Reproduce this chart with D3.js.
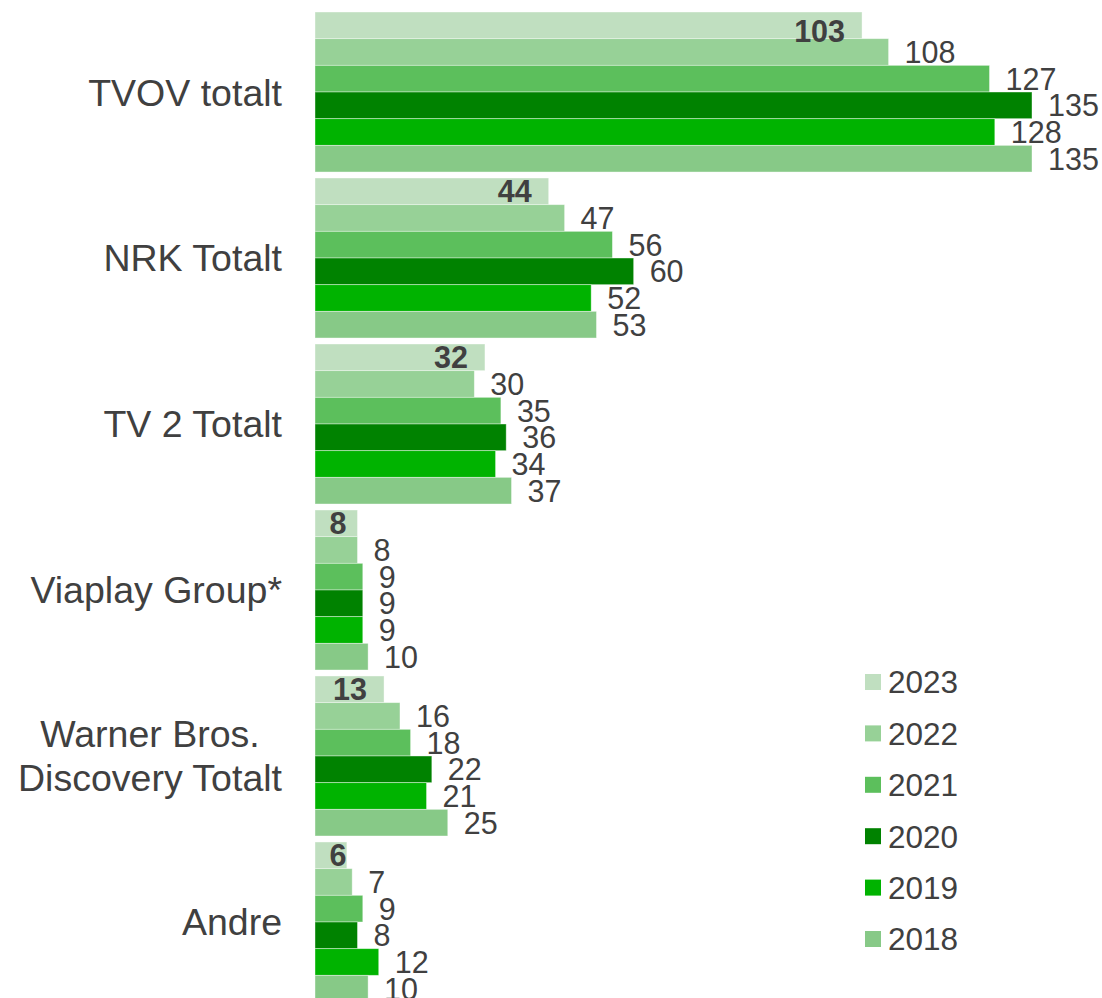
<!DOCTYPE html>
<html>
<head>
<meta charset="utf-8">
<title>TVOV</title>
<style>
  body { margin: 0; background: #fff; }
  text { font-family: "Liberation Sans", Arial, sans-serif; fill: #404040; }
</style>
</head>
<body>
<svg width="1102" height="998"></svg>
<script src="https://cdn.jsdelivr.net/npm/d3@7"></script>
<script>
// categories, top to bottom
var categories = ['TVOV totalt', 'NRK Totalt', 'TV 2 Totalt', 'Viaplay Group*', 'Warner Bros. Discovery Totalt', 'Andre'];
var categoryLines = [['TVOV totalt'], ['NRK Totalt'], ['TV 2 Totalt'], ['Viaplay Group*'], ['Warner Bros.', 'Discovery Totalt'], ['Andre']];

var years = ['2023', '2022', '2021', '2020', '2019', '2018'];
var colors = ['#c0dfc0', '#97d197', '#5cbf5c', '#008200', '#00b300', '#87c987'];

// one array per year, same order as categories
var v2023 = [103, 44, 32, 8, 13, 6];
var v2022 = [108, 47, 30, 8, 16, 7];
var v2021 = [127, 56, 35, 9, 18, 9];
var v2020 = [135, 60, 36, 9, 22, 8];
var v2019 = [128, 52, 34, 9, 21, 12];
var v2018 = [135, 53, 37, 10, 25, 10];
var series = [v2023, v2022, v2021, v2020, v2019, v2018];

var svg = d3.select('svg');

var x = d3.scaleLinear().domain([0, 135]).range([315, 1032]);

var y = d3.scaleBand().domain(categories).range([12, 1002]).paddingInner(0.036).paddingOuter(0);
var yy = d3.scaleBand().domain(years).range([0, y.bandwidth()]);

var color = d3.scaleOrdinal().domain(years).range(colors);

var groups = svg.selectAll('g.cat').data(categories)
  .enter().append('g').attr('class', 'cat')
  .attr('transform', function(d) { return 'translate(0,' + y(d) + ')'; });

groups.each(function(cat, ci) {
  var g = d3.select(this);
  var rows = years.map(function(yr, yi) { return { year: yr, value: series[yi][ci], first: yi === 0 }; });

  g.selectAll('rect').data(rows).enter().append('rect')
    .attr('x', x(0))
    .attr('y', function(d) { return yy(d.year); })
    .attr('width', function(d) { return x(d.value) - x(0); })
    .attr('height', yy.bandwidth())
    .attr('fill', function(d) { return color(d.year); })
    .attr('stroke', '#fff')
    .attr('stroke-opacity', 0.5)
    .attr('stroke-width', 0.8);

  g.selectAll('text.val').data(rows).enter().append('text')
    .attr('class', 'val')
    .attr('font-size', 30.5)
    .attr('font-weight', function(d) { return d.first ? 'bold' : 'normal'; })
    .attr('text-anchor', function(d) { return d.first ? 'middle' : 'start'; })
    .attr('dy', '0.36em')
    .attr('y', function(d) { return yy(d.year) + yy.bandwidth() / 2 + (d.first && ci === 0 ? 6 : 0); })
    .text(function(d) { return d.value; })
    .attr('x', function(d) {
      if (!d.first) return x(d.value) + 16;
      var w = this.getComputedTextLength();
      return Math.max(x(d.value) - 17 - w / 2, x(0) + 23);
    });

  // category label: lines centred on each other, block right-aligned at 282
  var lines = categoryLines[ci];
  var lh = 44;
  var t = g.append('text')
    .attr('font-size', 37.5)
    .attr('text-anchor', 'middle')
    .attr('y', y.bandwidth() / 2 - (lines.length - 1) * lh / 2);
  lines.forEach(function(l, li) {
    t.append('tspan').attr('dy', li === 0 ? '0.36em' : lh).text(l);
  });
  var maxW = 0;
  t.selectAll('tspan').each(function() { maxW = Math.max(maxW, this.getComputedTextLength()); });
  t.selectAll('tspan').attr('x', 282 - maxW / 2);
});

// legend
var legend = svg.append('g').attr('transform', 'translate(865,674)');
var li = legend.selectAll('g').data(years).enter().append('g')
  .attr('transform', function(d, i) { return 'translate(0,' + (i * 51.4) + ')'; });
li.append('rect').attr('width', 16).attr('height', 16).attr('fill', function(d) { return color(d); });
li.append('text').attr('x', 23).attr('y', 8).attr('dy', '0.36em').attr('font-size', 31.5).text(function(d) { return d; });
</script>
</body>
</html>
